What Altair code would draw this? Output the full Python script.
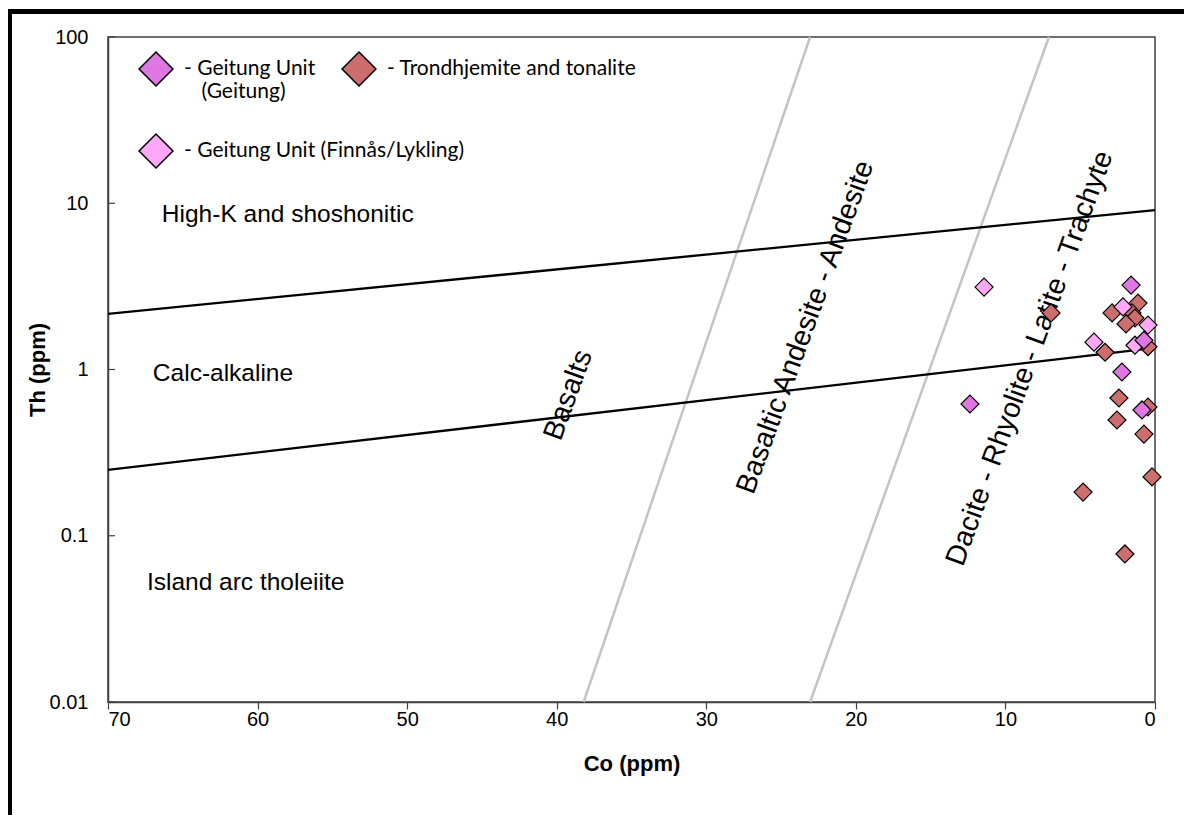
import altair as alt
import pandas as pd

# ---- data (Co ppm, Th ppm) ----
geitung_co = [1.60, 0.74, 2.21, 0.87, 12.37]
geitung_th = [3.22, 1.50, 0.966, 0.571, 0.62]

finnas_co = [11.43, 2.14, 0.47, 4.08, 1.34]
finnas_th = [3.13, 2.38, 1.85, 1.46, 1.40]

trond_co = [1.14, 2.87, 1.54, 1.34, 1.94, 6.95, 3.34, 0.47, 2.41, 0.47, 2.54, 0.74, 0.20, 4.81, 2.01]
trond_th = [2.51, 2.19, 2.19, 2.04, 1.88, 2.19, 1.27, 1.37, 0.674, 0.595, 0.497, 0.409, 0.226, 0.183, 0.0777]

group_names = ["Geitung Unit (Geitung)", "Trondhjemite and tonalite", "Geitung Unit (Finnås/Lykling)"]
group_colors = ["#DE77E1", "#CD6E6E", "#FFA8F8"]

# field boundaries (black) and rock-type boundaries (grey)
black_ids = ["hk", "hk", "ca", "ca"]
black_co = [70, 0, 70, 0]
black_th = [2.16, 9.1, 0.249, 1.35]

grey_ids = ["b", "b", "d", "d"]
grey_co = [38.2, 23.06, 23.06, 7.09]
grey_th = [0.01, 100, 0.01, 100]

field_labels = ["High-K and shoshonitic", "Calc-alkaline", "Island arc tholeiite"]
field_co = [66.4, 67.0, 67.4]
field_th = [8.49, 0.94, 0.052]

rock_labels = ["Basalts", "Basaltic Andesite - Andesite", "Dacite - Rhyolite - Latite - Trachyte"]
rock_co = [39.25, 23.4, 8.4]
rock_th = [0.703, 1.80, 1.17]

x_ticks = [0, 10, 20, 30, 40, 50, 60, 70]
y_ticks = [0.01, 0.1, 1, 10, 100]

# ---- tables ----
pts = pd.DataFrame({
    "Co": trond_co + finnas_co + geitung_co,
    "Th": trond_th + finnas_th + geitung_th,
    "group": [group_names[1]] * len(trond_co) + [group_names[2]] * len(finnas_co) + [group_names[0]] * len(geitung_co),
})
pts["order"] = range(len(pts))
black_df = pd.DataFrame({"id": black_ids, "Co": black_co, "Th": black_th})
grey_df = pd.DataFrame({"id": grey_ids, "Co": grey_co, "Th": grey_th})
field_df = pd.DataFrame({"label": field_labels, "Co": field_co, "Th": field_th})
rock_df = pd.DataFrame({"label": rock_labels, "Co": rock_co, "Th": rock_th})
ytick_df = pd.DataFrame({"Th": y_ticks})

FONT = "Liberation Sans"

xs = alt.Scale(domain=[0, 70], reverse=True, nice=False, zero=False)
ys = alt.Scale(type="log", domain=[0.01, 100], nice=False)

x_enc = alt.X("Co:Q", scale=xs, title="Co (ppm)", axis=alt.Axis(
    values=x_ticks, grid=False, labelFont=FONT, labelFontSize=20, labelColor="black",
    tickColor="#404040", tickSize=7, tickWidth=1.2, labelPadding=0,
    domainColor="#404040", domainWidth=1.5,
    titleFont=FONT, titleFontSize=22, titleFontWeight="bold", titleColor="black", titlePadding=24))
y_enc = alt.Y("Th:Q", scale=ys, title="Th (ppm)", axis=alt.Axis(
    values=y_ticks, format=".2~f", grid=False, ticks=False, labelPadding=20,
    labelFont=FONT, labelFontSize=20, labelColor="black",
    domainColor="#404040", domainWidth=1.5,
    titleFont=FONT, titleFontSize=22, titleFontWeight="bold", titleColor="black", titlePadding=0))

grey_lines = alt.Chart(grey_df).mark_line(color="#C4C4C4", strokeWidth=2.5).encode(
    x=x_enc, y=y_enc, detail="id:N")
black_lines = alt.Chart(black_df).mark_line(color="black", strokeWidth=2.3).encode(
    x=x_enc, y=y_enc, detail="id:N")

# inward-pointing y-axis ticks
y_ticks_in = alt.Chart(ytick_df).mark_rule(color="#404040", strokeWidth=1.2).encode(
    y=y_enc, x=alt.value(0), x2=alt.value(7))

field_text = alt.Chart(field_df).mark_text(
    align="left", baseline="middle", font=FONT, fontSize=24.5, color="black").encode(
    x=x_enc, y=y_enc, text="label:N")
rock_text = alt.Chart(rock_df).mark_text(
    align="center", baseline="middle", font=FONT, fontSize=28.5, color="black", angle=290).encode(
    x=x_enc, y=y_enc, text="label:N")

label_expr = ("datum.label == 'Geitung Unit (Geitung)' ? ['- Geitung Unit', '\u200b\u2002\u2004(Geitung)'] : "
              "'- ' + datum.label")

points = alt.Chart(pts).mark_point(
    shape="diamond", filled=True, size=324, opacity=1, stroke="black", strokeWidth=1.2).encode(
    x=x_enc, y=y_enc,
    fill=alt.Fill("group:N", scale=alt.Scale(domain=group_names, range=group_colors),
                  legend=alt.Legend(
                      title=None, orient="none", legendX=30, legendY=14, direction="horizontal",
                      columns=2, gridAlign="none",
                      symbolType="diamond", symbolSize=1150, symbolStrokeColor="black",
                      symbolStrokeWidth=1.5, symbolOpacity=1, labelFont="Lato", labelFontSize=21,
                      labelColor="black", labelOffset=10, labelLimit=400, columnPadding=-126,
                      rowPadding=29, padding=0, labelExpr=label_expr)),
    order="order:Q")

border_left = alt.Chart(pts).mark_rule(color="black", strokeWidth=5).encode(
    x=alt.value(-98.5), y=alt.value(-27), y2=alt.value(800))
border_top = alt.Chart(pts).mark_rule(color="black", strokeWidth=5).encode(
    x=alt.value(-101), x2=alt.value(1200), y=alt.value(-25.5))

chart = alt.layer(grey_lines, black_lines, y_ticks_in, field_text, rock_text, points,
                  border_left, border_top).properties(
    width=1047, height=665,
    padding={"left": 100, "top": 29, "right": 29, "bottom": 113},
    autosize=alt.AutoSizeParams(type="none"),
).configure_view(stroke="#404040", strokeWidth=1.5)

chart.save("out.html", embed_options={"renderer": "svg", "actions": False})
